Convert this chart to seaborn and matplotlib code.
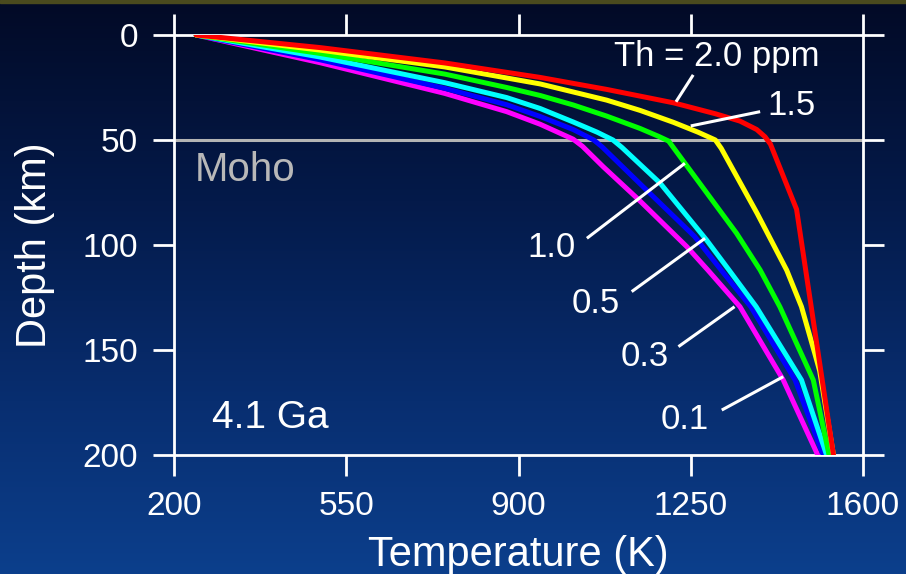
import numpy as np
import pandas as pd
import matplotlib
matplotlib.use("Agg")
import matplotlib.pyplot as plt
import seaborn as sns
from matplotlib.colors import LinearSegmentedColormap
from matplotlib.patches import Rectangle

# ---------------- data ----------------
th_values = ["2.0", "1.5", "1.0", "0.5", "0.3", "0.1"]
line_colors = ["#ff0000", "#ffff00", "#00ff00", "#00ffff", "#0000ff", "#ff00ff"]

temp_20 = [245, 497, 750, 944, 1079, 1215, 1300, 1350, 1384, 1401, 1412, 1465, 1540]
depth_20 = [0, 6.0, 13.3, 20.2, 25.9, 32.3, 37.5, 41, 45, 48.5, 52, 83, 200]

temp_15 = [245, 497, 750, 944, 1079, 1147, 1215, 1265, 1300, 1312, 1385, 1445, 1475, 1502, 1512, 1540]
depth_15 = [0, 7.2, 15.2, 23.3, 31, 35.9, 41.6, 46.3, 50, 54, 85, 112, 129.4, 151.6, 160, 200]

temp_10 = [245, 497, 750, 876, 944, 1011, 1079, 1147, 1185, 1205, 1238, 1343, 1391, 1431, 1499, 1531]
depth_10 = [0, 8.8, 18.6, 25, 28.8, 33.3, 38.6, 44.5, 48.3, 50.5, 61, 94.4, 111.9, 129.4, 164.3, 200]

temp_05 = [245, 497, 750, 876, 944, 1011, 1060, 1092, 1110, 1188, 1282, 1328, 1383, 1475, 1526]
depth_05 = [0, 10.5, 22.7, 29.8, 35, 41.4, 46.3, 50, 53.5, 70.6, 97.6, 112, 129.4, 164.3, 200]

temp_03 = [245, 497, 750, 876, 944, 1011, 1053, 1070, 1167, 1258, 1312, 1372, 1462, 1519]
depth_03 = [0, 11.8, 25.4, 33.2, 38.8, 45, 50, 53.3, 75.4, 96, 112, 129.4, 164.3, 200]

temp_01 = [245, 497, 750, 876, 944, 1011, 1030, 1072, 1145, 1242, 1285, 1350, 1438, 1508]
depth_01 = [0, 13.2, 27.8, 36.5, 42.5, 49.6, 53, 62.7, 78.6, 100.8, 112, 129.4, 164.3, 200]

x_ticks = [200, 550, 900, 1250, 1600]
y_ticks = [0, 50, 100, 150, 200]
moho_depth = 50

# label text, text position (T, depth), leader from (T, depth) to (T, depth)
label_texts = ["Th = 2.0 ppm", "1.5", "1.0", "0.5", "0.3", "0.1"]
label_pos = [(1303, 10.2), (1454, 33.6), (968, 101), (1057, 127.7), (1157, 152.9), (1238, 182.9)]
leader_start = [(1220, 31.8), (1250, 43.3), (1238, 61.1), (1279, 96.8), (1339, 129.4), (1438, 162.7)]
leader_end = [(1255, 19.0), (1391, 36.5), (1039, 96.8), (1130, 122.2), (1225, 148.4), (1313, 178.6)]

temps = [temp_20, temp_15, temp_10, temp_05, temp_03, temp_01]
depths = [depth_20, depth_15, depth_10, depth_05, depth_03, depth_01]

rows = []
for th, tt, dd in zip(th_values, temps, depths):
    for t, d in zip(tt, dd):
        rows.append({"Th": th, "T": t, "depth": d})
df = pd.DataFrame(rows)

# ---------------- style ----------------
sns.set_style("ticks")
plt.rcParams["font.family"] = ["Liberation Sans", "DejaVu Sans"]
plt.rcParams["text.color"] = "white"

fig = plt.figure(figsize=(9.06, 5.74), dpi=100)

# background gradient
bg = fig.add_axes([0, 0, 1, 1], zorder=-10)
cmap = LinearSegmentedColormap.from_list(
    "bg", [(0.0, "#020a26"), (0.35, "#041a4a"), (0.7, "#082e70"), (1.0, "#0c3f8c")])
grad = np.linspace(0, 1, 256).reshape(-1, 1)
bg.imshow(grad, aspect="auto", cmap=cmap, extent=[0, 1, 1, 0])
bg.set_axis_off()
fig.patches.append(Rectangle((0, 1 - 3 / 574), 1, 3 / 574, transform=fig.transFigure,
                             color="#4a4a1e", zorder=-5))

ax = fig.add_axes([174 / 906, (574 - 455) / 574, 689 / 906, 420 / 574])
ax.set_facecolor("none")

# draw curves (red last = on top)
hue_order = th_values[::-1]
palette = dict(zip(th_values, line_colors))
sns.lineplot(data=df, x="T", y="depth", hue="Th", hue_order=hue_order, palette=palette,
             sort=False, estimator=None, units="Th", linewidth=3.6, legend=False, ax=ax,
             zorder=3, solid_joinstyle="round")

ax.axhline(moho_depth, color="#b4b4b4", lw=2.2, zorder=2)

ax.set_xlim(200, 1600)
ax.set_ylim(200, 0)
ax.set_xticks(x_ticks)
ax.set_yticks(y_ticks)
ax.set_xticklabels([str(v) for v in x_ticks])
ax.set_yticklabels([str(v) for v in y_ticks])

for s in ax.spines.values():
    s.set_visible(True)
    s.set_color("white")
    s.set_linewidth(2.0)

ax.tick_params(axis="both", which="major", direction="out", length=15, width=2.0,
               color="white", labelcolor="white", labelsize=24,
               top=True, right=True, bottom=True, left=True)
ax.tick_params(axis="x", pad=11)
ax.tick_params(axis="y", pad=11)

ax.set_xlabel("Temperature (K)", fontsize=30, color="white")
ax.set_ylabel("Depth (km)", fontsize=30, color="white")
ax.xaxis.set_label_coords(0.5, -0.19)
ax.yaxis.set_label_coords(-0.172, 0.5)

# annotations
for txt, pos, p0, p1 in zip(label_texts, label_pos, leader_start, leader_end):
    ax.text(pos[0], pos[1], txt, fontsize=25, color="white", ha="center", va="center", zorder=5)
    ax.plot([p0[0], p1[0]], [p0[1], p1[1]], color="white", lw=2.2, zorder=4,
            solid_capstyle="butt")

ax.text(243, 64.3, "Moho", fontsize=29, color="#b8b8b8", ha="left", va="center")
ax.text(277, 182.5, "4.1 Ga", fontsize=28, color="white", ha="left", va="center")

fig.savefig("out.png", dpi=100)
